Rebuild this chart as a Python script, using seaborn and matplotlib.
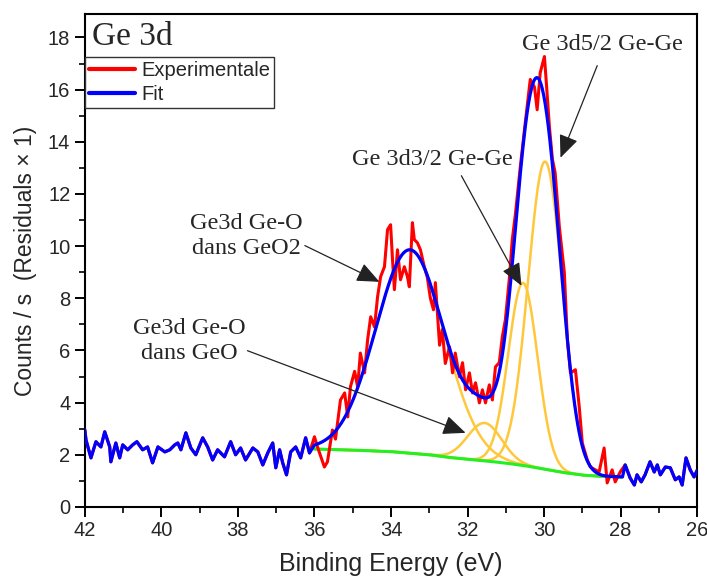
import numpy as np
import pandas as pd
import matplotlib
matplotlib.use("Agg")
import matplotlib.pyplot as plt
from matplotlib.ticker import MultipleLocator
import seaborn as sns

energy = [42.00, 41.97, 41.84, 41.71, 41.58, 41.48, 41.35, 41.32, 41.19, 41.09,
          41.01, 40.88, 40.75, 40.64, 40.49, 40.36, 40.23, 40.09, 39.91, 39.78,
          39.65, 39.57, 39.49, 39.36, 39.23, 39.10, 38.92, 38.79, 38.66, 38.53,
          38.35, 38.19, 38.06, 37.93, 37.80, 37.61, 37.48, 37.35, 37.22, 37.09,
          37.01, 36.91, 36.83, 36.73, 36.62, 36.49, 36.36, 36.23, 36.13, 36.00,
          35.92, 35.74, 35.66, 35.53, 35.45, 35.32, 35.21, 35.13, 35.06, 34.95,
          34.87, 34.80, 34.69, 34.61, 34.53, 34.43, 34.35, 34.27, 34.17, 34.09,
          34.01, 33.96, 33.91, 33.83, 33.75, 33.65, 33.57, 33.52, 33.44, 33.39,
          33.31, 33.23, 33.13, 33.05, 32.97, 32.89, 32.84, 32.73, 32.66, 32.58,
          32.47, 32.39, 32.32, 32.21, 32.13, 32.05, 31.95, 31.87, 31.79, 31.69,
          31.61, 31.53, 31.43, 31.35, 31.27, 31.17, 31.09, 31.01, 30.91, 30.83,
          30.75, 30.62, 30.49, 30.36, 30.25, 30.18, 30.10, 29.99, 29.94, 29.86,
          29.78, 29.71, 29.60, 29.47, 29.39, 29.31, 29.18, 29.08, 29.00, 28.87,
          28.79, 28.56, 28.43, 28.35, 28.22, 28.14, 28.01, 27.88, 27.75, 27.64,
          27.57, 27.46, 27.36, 27.23, 27.12, 27.04, 26.96, 26.83, 26.70, 26.57,
          26.47, 26.39, 26.29, 26.18, 26.08, 26.00]
counts = [2.95, 2.57, 1.88, 2.50, 2.30, 2.88, 2.30, 1.73, 2.45, 1.88,
          2.38, 2.19, 2.38, 2.50, 2.19, 2.30, 1.69, 2.30, 2.11, 2.19,
          2.38, 2.45, 2.19, 2.84, 2.26, 2.00, 2.65, 2.30, 1.80, 2.19,
          1.92, 2.50, 2.00, 2.26, 1.80, 2.26, 2.11, 1.61, 2.07, 2.45,
          1.50, 2.19, 1.69, 1.23, 2.11, 2.30, 1.88, 2.65, 2.07, 2.69,
          2.30, 1.53, 1.73, 2.95, 2.60, 4.10, 4.37, 3.45, 4.60, 5.20,
          4.60, 5.90, 5.14, 6.41, 7.29, 6.90, 8.06, 8.83, 9.21, 10.63,
          10.82, 9.48, 8.33, 9.86, 8.71, 9.21, 8.83, 8.44, 10.90, 10.25,
          10.13, 9.86, 9.21, 8.80, 8.00, 7.56, 8.60, 6.20, 6.80, 5.50,
          6.14, 5.14, 5.90, 4.99, 5.53, 4.49, 5.14, 4.37, 4.76, 3.99,
          4.49, 3.99, 4.68, 4.10, 5.37, 5.53, 6.52, 7.18, 8.71, 10.25,
          11.20, 13.05, 14.74, 16.39, 16.10, 15.23, 16.65, 17.27, 16.27, 14.58,
          13.32, 12.82, 10.74, 9.00, 6.41, 5.14, 5.26, 3.84, 2.45, 1.80,
          1.53, 1.34, 2.26, 0.92, 1.42, 0.96, 1.34, 1.61, 1.11, 0.84,
          1.23, 0.96, 1.23, 1.73, 1.34, 1.61, 1.23, 1.53, 1.50, 1.04,
          1.15, 0.84, 1.88, 1.42, 1.15, 1.40]

# Fit window and background (green line)
fit_high, fit_low = 36.0, 27.95
bg_energy = [36.0, 35.0, 34.0, 33.0, 32.5, 32.0, 31.5, 31.0, 30.5, 30.0, 29.5, 29.0, 28.5, 27.95]
bg_counts = [2.22, 2.18, 2.12, 2.00, 1.90, 1.83, 1.76, 1.68, 1.58, 1.45, 1.32, 1.22, 1.17, 1.15]

# Fitted components: GeO2, GeO, Ge 3d3/2, Ge 3d5/2
peak_centres = [33.50, 31.55, 30.55, 29.97]
peak_heights = [7.80, 1.45, 7.00, 11.80]
peak_fwhm = [2.10, 1.05, 0.90, 1.05]

# Annotations: label, text position, arrow tail, arrow tip
labels = ["Ge 3d5/2 Ge-Ge", "Ge 3d3/2 Ge-Ge", "Ge3d Ge-O\ndans GeO2", "Ge3d Ge-O\ndans GeO"]
label_xy = [(28.48, 17.73), (32.92, 13.32), (37.77, 10.40), (39.26, 6.37)]
arrow_tail = [(28.61, 16.92), (32.16, 12.70), (36.25, 10.02), (37.75, 5.99)]
arrow_tip = [(29.57, 13.39), (30.59, 8.48), (34.30, 8.63), (32.05, 2.84)]

exp_df = pd.DataFrame({"energy": energy, "counts": counts})

# build the fit curve on a fine grid
grid = np.linspace(fit_high, fit_low, 400)
bg = np.interp(grid, bg_energy[::-1], bg_counts[::-1])
components = []
for c, h, w in zip(peak_centres, peak_heights, peak_fwhm):
    components.append(h * np.exp(-4 * np.log(2) * (grid - c) ** 2 / w ** 2))
fit = bg + np.sum(components, axis=0)

outside_hi = exp_df[exp_df["energy"] > fit_high]
outside_lo = exp_df[exp_df["energy"] < fit_low]
fit_df = pd.concat([
    outside_hi,
    pd.DataFrame({"energy": grid, "counts": fit}),
    outside_lo,
], ignore_index=True)

sns.set_style("ticks")
plt.rcParams["font.family"] = ["Liberation Sans", "DejaVu Sans"]

fig = plt.figure(figsize=(7.07, 5.84), dpi=100)
ax = fig.add_axes([0.120, 0.132, 0.866, 0.844])

orange = "#FFC83C"
for comp in components:
    ax.plot(grid, bg + comp, color=orange, lw=1.8, zorder=2)
ax.plot(grid, bg, color="#22F022", lw=2.2, zorder=3)

sns.lineplot(data=exp_df, x="energy", y="counts", ax=ax, color="#FF0000", lw=2.2,
             sort=False, estimator=None, label="Experimentale", zorder=4)
sns.lineplot(data=fit_df, x="energy", y="counts", ax=ax, color="#0000FF", lw=2.3,
             sort=False, estimator=None, label="Fit", zorder=5)

ax.set_xlim(42, 26)
ax.set_ylim(0, 18.9)
ax.xaxis.set_major_locator(MultipleLocator(2))
ax.xaxis.set_minor_locator(MultipleLocator(1))
ax.yaxis.set_major_locator(MultipleLocator(2))
ax.yaxis.set_minor_locator(MultipleLocator(1))
ax.tick_params(which="major", direction="out", length=7, width=1.4, labelsize=14.5, color="black")
ax.tick_params(which="minor", direction="out", length=4, width=1.2, color="black")
for s in ax.spines.values():
    s.set_linewidth(1.5)
    s.set_color("black")

ax.set_xlabel("Binding Energy (eV)", fontsize=18, labelpad=8)
ax.set_ylabel("Counts / s  (Residuals \u00d7 1)", fontsize=16.5, labelpad=8)

ax.text(0.012, 0.937, "Ge 3d", transform=ax.transAxes, fontsize=24,
        family="Liberation Serif", va="baseline", ha="left")

for lab, txy, tail, tip in zip(labels, label_xy, arrow_tail, arrow_tip):
    ax.text(txy[0], txy[1], lab, family="Liberation Serif", fontsize=17.5,
            ha="center", va="center", multialignment="center", linespacing=1.25, zorder=6)
    ax.annotate("", xy=tip, xytext=tail,
                arrowprops=dict(arrowstyle="-|>,head_length=0.7,head_width=0.3",
                                color="#222222", lw=0.9, shrinkA=0, shrinkB=0,
                                mutation_scale=20), zorder=6)

leg = ax.legend(loc="upper left", bbox_to_anchor=(0.0, 0.913), fontsize=14.5,
                frameon=True, fancybox=False, edgecolor="#333333", framealpha=1,
                handlelength=2.3, handletextpad=0.3, labelspacing=0.25,
                borderpad=0.2, borderaxespad=0)
leg.get_frame().set_linewidth(1.0)
for line in leg.get_lines():
    line.set_linewidth(3)

fig.savefig("out.png", dpi=100)
